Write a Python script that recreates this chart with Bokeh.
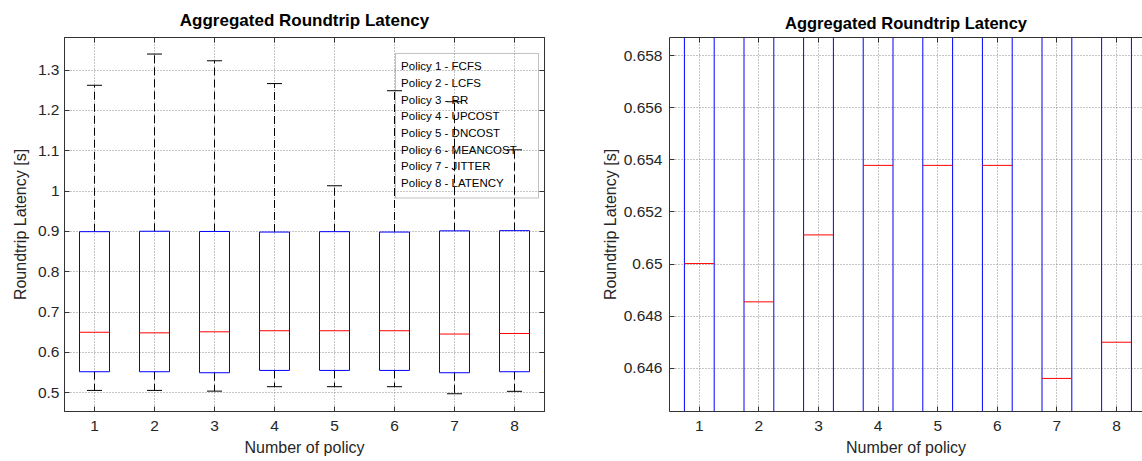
from bokeh.plotting import figure
from bokeh.layouts import row
from bokeh.models import FixedTicker, CustomJSTickFormatter, LinearAxis, Range1d, BoxAnnotation
from bokeh.core.properties import value
from bokeh.embed import file_html
from bokeh.resources import INLINE

# ---------------- data ----------------
policies = [1, 2, 3, 4, 5, 6, 7, 8]
q1 = [0.5521, 0.5521, 0.5496, 0.5554, 0.5554, 0.5554, 0.5496, 0.5521]
q3 = [0.8995, 0.9005, 0.9000, 0.8985, 0.8995, 0.8985, 0.9015, 0.9020]
medians = [0.65002, 0.64855, 0.65112, 0.65379, 0.65379, 0.65379, 0.64561, 0.64700]
upper_whisker = [1.2625, 1.3400, 1.3233, 1.2667, 1.0133, 1.2490, 1.2217, 1.1025]
lower_whisker = [0.5058, 0.5058, 0.5040, 0.5150, 0.5150, 0.5150, 0.4975, 0.5035]

legend_lines = ["Policy 1 - FCFS", "Policy 2 - LCFS", "Policy 3 - RR",
                "Policy 4 - UPCOST", "Policy 5 - DNCOST", "Policy 6 - MEANCOST",
                "Policy 7 - JITTER", "Policy 8 -  LATENCY"]

x_ticks = [1, 2, 3, 4, 5, 6, 7, 8]
left_y_ticks = [0.5, 0.6, 0.7, 0.8, 0.9, 1.0, 1.1, 1.2, 1.3]
right_y_ticks = [0.646, 0.648, 0.650, 0.652, 0.654, 0.656, 0.658]

title_text = "Aggregated Roundtrip Latency"
x_label = "Number of policy"
y_label = "Roundtrip Latency [s]"

# ---------------- style constants ----------------
BOX_HALF = 0.25
CAP_HALF = 0.125
FONT = "Liberation Sans"
TXT = "#262626"
AX = "#333333"
GRID = "#8a8a8a"

fmt_code = "return String(parseFloat(tick.toFixed(4)));"


def style_axis(ax, ticks, standoff=5):
    ax.ticker = FixedTicker(ticks=ticks)
    ax.formatter = CustomJSTickFormatter(code=fmt_code)
    ax.major_tick_in = 5
    ax.major_tick_out = 0
    ax.minor_tick_line_color = None
    ax.axis_line_color = AX
    ax.major_tick_line_color = AX
    ax.major_label_text_font = FONT
    ax.major_label_text_color = TXT
    ax.major_label_standoff = standoff
    ax.major_label_text_font_size = "15.5px"


def mirror_axis(ticks):
    # axis line with inward ticks only (minor ticks => no labels)
    ax = LinearAxis(ticker=FixedTicker(ticks=[], minor_ticks=ticks))
    ax.minor_tick_in = 5
    ax.minor_tick_out = 0
    ax.minor_tick_line_color = AX
    ax.major_tick_line_color = None
    ax.axis_line_color = AX
    ax.major_label_standoff = 0
    return ax


def make_fig(width, min_left, min_right, min_top, min_bottom, xr, yr, y_ticks,
             y_standoff, ylab_standoff, title_size, title_standoff, right_mirror):
    p = figure(width=width, height=461, x_range=Range1d(*xr), y_range=Range1d(*yr),
               output_backend="svg", toolbar_location=None,
               min_border_left=min_left, min_border_right=min_right,
               min_border_top=min_top, min_border_bottom=min_bottom,
               background_fill_color="white", border_fill_color="white")
    p.title.text = title_text
    p.title.align = "center"
    p.title.text_font = FONT
    p.title.text_font_size = title_size
    p.title.text_font_style = "bold"
    p.title.text_color = "black"
    p.title.standoff = title_standoff

    style_axis(p.xaxis[0], x_ticks, 9)
    style_axis(p.yaxis[0], y_ticks, y_standoff)
    for ax, lab, so in ((p.xaxis[0], x_label, 5), (p.yaxis[0], y_label, ylab_standoff)):
        ax.axis_label = lab
        ax.axis_label_text_font = FONT
        ax.axis_label_text_font_size = "16px"
        ax.axis_label_text_font_style = "normal"
        ax.axis_label_text_color = TXT
        ax.axis_label_standoff = so

    p.add_layout(mirror_axis(x_ticks), "above")
    if right_mirror:
        p.add_layout(mirror_axis(y_ticks), "right")
        p.outline_line_color = AX
    else:
        p.outline_line_color = None

    p.xgrid.ticker = FixedTicker(ticks=x_ticks)
    p.ygrid.ticker = FixedTicker(ticks=y_ticks)
    for g in (p.xgrid[0], p.ygrid[0]):
        g.grid_line_color = GRID
        g.grid_line_dash = "1 2"
        g.grid_line_width = 1

    left = [x - BOX_HALF for x in policies]
    right = [x + BOX_HALF for x in policies]
    cl = [x - CAP_HALF for x in policies]
    cr = [x + CAP_HALF for x in policies]

    # whiskers
    p.segment(x0=policies, y0=q3, x1=policies, y1=upper_whisker,
              line_color="black", line_dash="8 4", line_width=1)
    p.segment(x0=policies, y0=q1, x1=policies, y1=lower_whisker,
              line_color="black", line_dash="8 4", line_width=1)
    # caps
    p.segment(x0=cl, y0=upper_whisker, x1=cr, y1=upper_whisker, line_color="black", line_width=1)
    p.segment(x0=cl, y0=lower_whisker, x1=cr, y1=lower_whisker, line_color="black", line_width=1)
    # boxes
    p.quad(left=left, right=right, bottom=q1, top=q3,
           fill_color=None, line_color="#0000ff", line_width=1)
    # medians
    p.segment(x0=left, y0=medians, x1=right, y1=medians, line_color="#ff0000", line_width=1)
    return p


p1 = make_fig(589, 64, 45, 37, 50, (0.5, 8.5), (0.4535, 1.381), left_y_ticks,
              5, 6, "17px", 15, True)

# legend (text box) for the left chart
legend_box = BoxAnnotation(left=6.017, right=8.40, top=1.3415, bottom=0.983,
                           fill_color=None, fill_alpha=0, line_color=AX, line_width=1)
p1.add_layout(legend_box)
leg_x = [6.11] * len(legend_lines)
leg_y = [1.3099 - 0.04134 * i for i in range(len(legend_lines))]
p1.text(x=leg_x, y=leg_y, text=legend_lines, text_font=value(FONT),
        text_font_size="11.5px", text_baseline="middle", text_align="left", text_color="black")

p2 = make_fig(553, 80, 0, 34, 50, (0.5, 8.436), (0.64434, 0.6587), right_y_ticks,
              7, 2, "16.5px", 11, False)

layout = row(p1, p2)
open("out.html", "w").write(file_html(layout, INLINE))
